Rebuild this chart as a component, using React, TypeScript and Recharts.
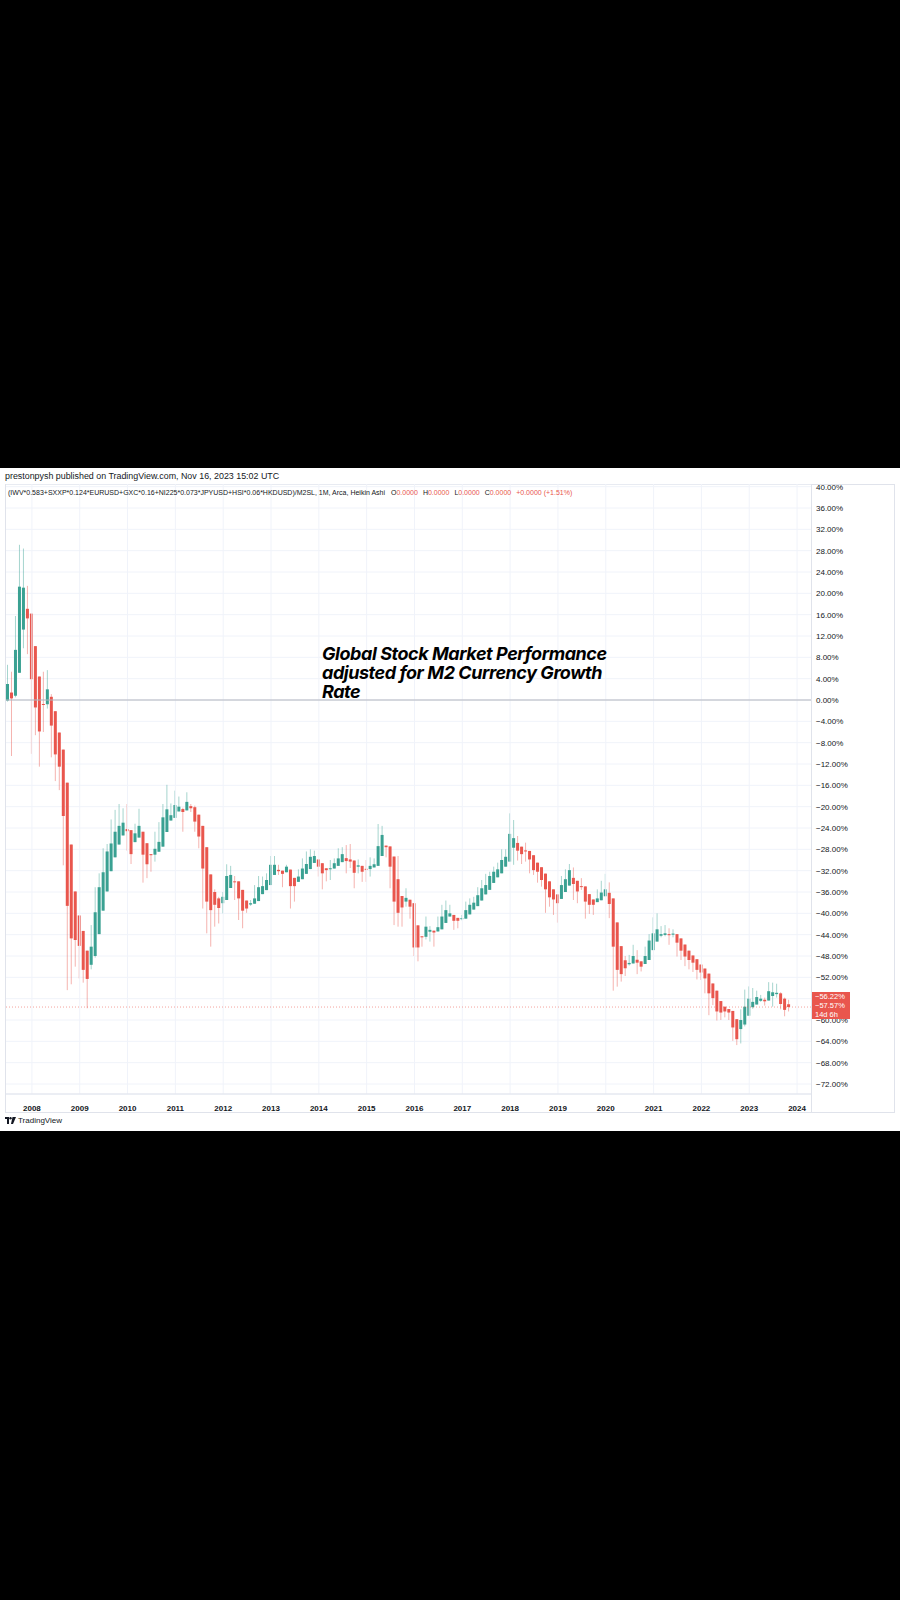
import React from "react";
import { ComposedChart, Bar, XAxis, YAxis, CartesianGrid, ReferenceLine } from "recharts";

// monthly Heikin Ashi candles, Jul 2007 .. Nov 2023 (one row per year)
const openVals = [
  -0.1, 1.4, 0.8, 5.1, 13.2, 17.1,
  16.2, 10.1, 4.4, -0.75, -0.8, 0.6, -2.1, -6.1, -9.3, -15.5, -27.1, -35.9,
  -40.4, -43.3, -47, -49.65, -48, -43.9, -39.5, -35.9, -32.1, -29.5, -27.1, -25.4,
  -24.2, -24.4, -26.65, -25.8, -24.7, -26.85, -28.9, -29, -28.45, -27.5, -24.75, -22.6,
  -22.1, -20.9, -20.45, -20.7, -19.9, -20.1, -21.5, -23.6, -27.6, -32.7, -36, -37.2,
  -38.1, -37.5, -35.25, -34, -34, -35.6, -37.6, -38.35, -38.2, -37.7, -36.4, -35.65,
  -34.7, -32.8, -31.85, -32, -32.3, -31.8, -33.35, -34.1, -33.6, -32.6, -31.7, -30.55,
  -29.9, -30.6, -31.55, -31.7, -31.6, -31.1, -30.4, -29.65, -29.9, -30.1, -31.25, -31.1,
  -31.65, -31.7, -31.4, -31.1, -29.25, -27.3, -27.45, -29.35, -33.6, -36.75, -37.8, -37.45,
  -38.1, -42.25, -44.3, -44.4, -43.45, -43.25, -43.4, -43, -41.8, -40.6, -40.3, -40.85,
  -41.1, -41, -40.2, -39.3, -38.65, -37.6, -36.45, -35.6, -34.3, -33.25, -32.5, -31.25,
  -30.3, -27.7, -26.8, -27.5, -28.2, -28.3, -29.1, -30.5, -31.35, -32.55, -34, -35.5,
  -36.45, -37.3, -36, -34.8, -33.35, -33.9, -34.9, -34.95, -36.4, -37.4, -37.9, -37.55,
  -36.8, -36.15, -37.2, -41.7, -46.15, -48.8, -49.55, -49.4, -48.7, -49, -49.5, -48.75,
  -46.9, -45.3, -44.2, -44.05, -43.9, -44, -43.9, -44.7, -45.85, -47, -47.9, -48.6,
  -49.6, -50.35, -51.3, -53.15, -54.5, -56.45, -57.5, -57.95, -58.3, -59.85, -61.7, -60.85,
  -59.2, -57.6, -57.1, -56.4, -56.2, -56.35, -55.5, -55.15, -55.0, -56, -57.05,
];
const highVals = [
  6.6, 5.3, 15.75, 29.1, 28.4, 21.4,
  16.2, 10.1, 4.4, 5.3, 5.6, 1.1, -2.1, -6.1, -9.3, -15.5, -27.1, -35.9,
  -40.4, -43.3, -47, -42.2, -35.1, -32.5, -27.8, -27, -22.4, -20.6, -19.5, -20.3,
  -19.5, -24.4, -23.2, -20.4, -24.7, -26.85, -28.9, -24.7, -22.9, -19.5, -15.9, -19.4,
  -17, -18.1, -20.2, -17.3, -19.5, -19.8, -21.5, -23.6, -27.6, -32.7, -35.5, -36.9,
  -36, -30.8, -31.1, -33, -34, -35.6, -37.6, -37.5, -34.7, -33, -33.1, -32.5,
  -29.25, -29.25, -30.9, -32, -30.9, -31.8, -33.35, -31.75, -29.7, -28.4, -28, -28.25,
  -29.9, -30.6, -31.55, -30, -29.7, -27.8, -27.6, -27.2, -27, -30.1, -29.9, -31.1,
  -30, -29.5, -29.7, -23.25, -23.6, -27.3, -27.45, -29.35, -29.25, -36.75, -35.3, -37.45,
  -38.1, -42.25, -44.3, -40.6, -42.4, -43.25, -40.6, -38.4, -37.6, -38.4, -40.3, -40.85,
  -40.3, -37.8, -37.2, -36.9, -35.1, -33.75, -32.6, -32.2, -31.25, -30.5, -28, -28,
  -21.25, -22.5, -25.5, -27.5, -26.75, -28.3, -29.1, -30.5, -31.35, -32.55, -34, -35.5,
  -36.45, -33, -31.75, -30.75, -31.4, -33.9, -33.4, -34.95, -36.4, -37.4, -35.5, -33.9,
  -32.6, -34.2, -37.2, -41.7, -46.15, -48, -47.8, -45.9, -46.9, -49, -46.25, -43.9,
  -40.75, -40, -42.4, -42.2, -42.8, -43, -43.9, -44.7, -45.85, -47, -47.9, -48.6,
  -49.6, -50.35, -51.3, -53.15, -54.5, -56.45, -57.5, -57.95, -58.3, -59.85, -58, -54.3,
  -53.7, -54, -54.5, -55.3, -55.8, -52.9, -53, -53.2, -54.8, -55.8, -56.2,
];
const lowVals = [
  -0.3, -10.5, 0.5, 5.1, 9.7, 8.6,
  -10.1, -6.6, -12.5, -6, -1.6, -10.75, -15.2, -16.9, -31, -54.4, -53.3, -50,
  -52.2, -53.0, -57.8, -50.5, -48.3, -43.9, -39.5, -35.9, -32.1, -29.5, -27.1, -25.4,
  -28.25, -30.75, -26.65, -25.8, -34.25, -33.4, -32.2, -30.3, -28.45, -27.5, -24.75, -22.6,
  -22.1, -20.9, -24.7, -20.7, -21, -24.7, -27.8, -39.1, -43.75, -46.25, -42.5, -41.9,
  -40, -37.5, -35.25, -37.5, -41.25, -42.8, -39.9, -38.6, -38.2, -37.7, -36.4, -35.65,
  -34.7, -32.8, -32.8, -35.1, -32.3, -39.1, -37.8, -34.1, -33.6, -32.6, -31.7, -30.55,
  -33.1, -35.5, -34, -33.75, -31.6, -31.1, -30.4, -32.5, -31.5, -35.3, -32.5, -34.1,
  -34.1, -33.1, -31.4, -31.1, -29.25, -29.5, -35.3, -42.2, -42.5, -42.5, -38.75, -41,
  -48, -49, -46.25, -44.9, -45.3, -46.25, -43.4, -43, -41.8, -40.6, -43.1, -42.8,
  -41.3, -41, -40.2, -39.3, -38.65, -37.6, -36.45, -35.6, -34.3, -33.25, -32.5, -31.25,
  -30.3, -30.9, -30.1, -30.75, -30.3, -32.5, -32.8, -34.25, -35, -39.9, -38.75, -40.3,
  -41.75, -37.3, -36, -34.8, -37.5, -38.1, -35.6, -41, -40.1, -40.3, -37.9, -37.55,
  -36.8, -40.9, -54.5, -53.75, -52.8, -51.75, -49.8, -49.4, -51.4, -50.9, -49.5, -48.75,
  -46.9, -45.3, -44.5, -44.3, -45.9, -44.5, -48.1, -48.75, -49.9, -50.5, -51, -52.4,
  -52.5, -55, -59.1, -57.2, -60.1, -60, -59.5, -60, -63.9, -64.7, -64.4, -61.2,
  -59.2, -57.9, -57.1, -56.6, -57.3, -56.35, -57.5, -55.8, -58, -59.3, -58.4,
];
const closeVals = [
  3.0, 0.3, 9.4, 21.25, 21.06, 15.3,
  3.9, -1.4, -5.9, -0.9, 2.0, -4.8, -10.2, -12.5, -21.75, -38.6, -44.7, -45,
  -46.1, -50.6, -52.3, -46.25, -39.8, -35.1, -32.3, -28.4, -26.9, -24.7, -23.6, -23.0,
  -24.6, -28.9, -25, -23.6, -29, -30.8, -29.1, -27.9, -26.6, -22, -20.5, -21.6,
  -19.7, -20, -21, -19.1, -20.3, -22.8, -25.6, -31.6, -37.8, -39.4, -38.4, -39,
  -36.9, -33, -32.8, -34.1, -37.2, -39.5, -39.1, -38.1, -37.2, -35.1, -34.9, -33.75,
  -30.9, -30.9, -32.1, -32.6, -31.25, -34.9, -34.9, -33.1, -31.6, -30.75, -29.4, -29.25,
  -31.25, -32.5, -31.9, -31.55, -30.6, -29.7, -28.9, -30.2, -30.3, -32.4, -31.0, -32.2,
  -31.8, -31.1, -30.8, -27.4, -25.3, -27.6, -31.25, -37.8, -39.9, -38.9, -37.1, -38.75,
  -46.4, -46.4, -44.5, -42.5, -43.1, -43.6, -42.6, -40.6, -39.4, -40.0, -41.4, -41.4,
  -40.9, -39.4, -38.4, -38, -36.6, -35.3, -34.7, -33, -32.2, -31.75, -30, -29.4,
  -25.1, -25.9, -28.25, -28.9, -28.4, -29.9, -31.9, -32.2, -33.75, -35.5, -37, -37.4,
  -38.1, -34.7, -33.6, -31.9, -34.5, -35.9, -35.0, -37.8, -38.4, -38.4, -37.2, -36.1,
  -35.5, -38.25, -46.25, -50.6, -51.4, -50.3, -49.3, -48, -49.25, -50, -48, -45.1,
  -43.75, -43, -43.9, -43.75, -44.1, -43.8, -45.5, -47, -48.1, -48.75, -49.25, -50.6,
  -51.1, -52.2, -55, -55.9, -58.4, -58.6, -58.4, -58.6, -61.4, -63.6, -60, -57.5,
  -56, -56.6, -55.7, -56.0, -56.5, -54.6, -54.8, -54.9, -57, -58.1, -57.57,
];

const yearLabels = ["2008", "2009", "2010", "2011", "2012", "2013", "2014", "2015", "2016",
  "2017", "2018", "2019", "2020", "2021", "2022", "2023", "2024"];
const priceTicks = [40, 36, 32, 28, 24, 20, 16, 12, 8, 4, 0, -4, -8, -12, -16, -20, -24, -28,
  -32, -36, -40, -44, -48, -52, -56, -60, -64, -68, -72];
const lastClose = -57.57;
const priceTag = ["\u221256.22%", "\u221257.57%", "14d 6h"];

const UP = "#3aa192";
const DOWN = "#e9564d";
const GRID = "#f0f3fa";
const BORDER = "#e0e3eb";
const TEXT = "#131722";
const FONT = "'Liberation Sans', Arial, sans-serif";

// month slots: data months plus a few empty ones to the right edge
const SLOTS = 202;
const months = Array.from({ length: SLOTS }, (_, i) => {
  const t = 6 + i; // starts July 2007
  return `${2007 + Math.floor(t / 12)}-${String((t % 12) + 1).padStart(2, "0")}`;
});

const data = months.map((m, i) =>
  i < openVals.length
    ? { m, o: openVals[i], h: highVals[i], l: lowVals[i], c: closeVals[i], range: [lowVals[i], highVals[i]] }
    : { m, range: null }
);

const yearKeys = yearLabels.map((y) => `${y}-01`);

const fmtPct = (v: number) => `${v < 0 ? "\u2212" : ""}${Math.abs(v).toFixed(2)}%`;

const Candle = (props: any) => {
  const { x, y, width, height, payload } = props;
  if (!payload || payload.o == null) return null;
  const { o, h, l, c } = payload;
  const k = height / (h - l);
  const yO = y + (h - o) * k;
  const yC = y + (h - c) * k;
  const color = c >= o ? UP : DOWN;
  const cx = x + width / 2;
  const top = Math.min(yO, yC);
  const bh = Math.max(Math.abs(yO - yC), 1);
  return (
    <g>
      <line x1={cx} x2={cx} y1={y} y2={y + height} stroke={color} strokeOpacity={0.45} strokeWidth={1} />
      <rect x={x} y={top} width={width} height={bh} fill={color} />
    </g>
  );
};

const YearTick = (props: any) => {
  const { x, y, payload } = props;
  const v: string = payload.value;
  if (!v.endsWith("-01")) return <g />;
  return (
    <text x={x} y={y + 9} textAnchor="middle" fontSize={8} fontWeight={700} fill={TEXT} fontFamily={FONT}>
      {v.slice(0, 4)}
    </text>
  );
};

export default function App() {
  return (
    <div style={{ position: "absolute", left: 0, top: 0, width: 900, height: 1600, background: "#000", overflow: "hidden" }}>
      <div style={{ position: "absolute", left: 0, top: 468, width: 900, height: 663, background: "#fff", fontFamily: FONT }}>
        <div style={{ position: "absolute", left: 5, top: 3, fontSize: 8.9, color: TEXT, whiteSpace: "nowrap" }}>
          prestonpysh published on TradingView.com, Nov 16, 2023 15:02 UTC
        </div>

        {/* frame lines */}
        <div style={{ position: "absolute", left: 5, top: 16, width: 890, height: 0, borderTop: `1px solid ${BORDER}` }} />
        <div style={{ position: "absolute", left: 5, top: 16, width: 0, height: 628, borderLeft: `1px solid ${BORDER}` }} />
        <div style={{ position: "absolute", left: 811, top: 16, width: 0, height: 628, borderLeft: `1px solid ${BORDER}` }} />
        <div style={{ position: "absolute", left: 894, top: 16, width: 0, height: 628, borderLeft: `1px solid ${BORDER}` }} />
        <div style={{ position: "absolute", left: 5, top: 644, width: 890, height: 0, borderTop: `1px solid ${BORDER}` }} />

        <div style={{ position: "absolute", left: 5, top: 16 }}>
          <ComposedChart width={890} height={628} data={data} margin={{ top: 0, right: 0, left: 1, bottom: 0 }}>
            <CartesianGrid stroke={GRID} vertical={false} />
            {yearKeys.map((k) => (
              <ReferenceLine key={k} x={k} stroke={GRID} ifOverflow="extendDomain" />
            ))}
            <XAxis
              dataKey="m"
              type="category"
              interval={0}
              height={18}
              tickLine={false}
              axisLine={{ stroke: BORDER }}
              tick={<YearTick />}
            />
            <YAxis
              orientation="right"
              width={84}
              domain={[-73.875, 40.5]}
              allowDataOverflow
              ticks={priceTicks}
              interval={0}
              tickFormatter={fmtPct}
              tickLine={false}
              axisLine={false}
              tickSize={0}
              tickMargin={5}
              tick={{ fontSize: 8, fill: TEXT, fontFamily: FONT }}
            />
            <ReferenceLine y={0} stroke="#b2b5be" strokeWidth={1} />
            <ReferenceLine y={lastClose} stroke={DOWN} strokeOpacity={0.55} strokeDasharray="1 2" />
            <Bar dataKey="range" barSize={3} shape={<Candle />} isAnimationActive={false} />
          </ComposedChart>
        </div>

        <div style={{ position: "absolute", left: 8, top: 21, fontSize: 7, color: TEXT, whiteSpace: "nowrap" }}>
          (IWV*0.583+SXXP*0.124*EURUSD+GXC*0.16+NI225*0.073*JPYUSD+HSI*0.06*HKDUSD)/M2SL, 1M, Arca, Heikin Ashi
          <span style={{ marginLeft: 6 }}>O<span style={{ color: DOWN }}>0.0000</span></span>
          <span style={{ marginLeft: 5 }}>H<span style={{ color: DOWN }}>0.0000</span></span>
          <span style={{ marginLeft: 5 }}>L<span style={{ color: DOWN }}>0.0000</span></span>
          <span style={{ marginLeft: 5 }}>C<span style={{ color: DOWN }}>0.0000</span></span>
          <span style={{ marginLeft: 5, color: DOWN }}>+0.0000 (+1.51%)</span>
        </div>

        <div
          style={{
            position: "absolute",
            left: 322,
            top: 176,
            fontFamily: "Inter, sans-serif",
            fontWeight: 700,
            fontStyle: "italic",
            fontSize: 18,
            lineHeight: "19px",
            letterSpacing: -0.45,
            color: "#000",
          }}
        >
          Global Stock Market Performance
          <br />
          adjusted for M2 Currency Growth
          <br />
          Rate
        </div>

        <div
          style={{
            position: "absolute",
            left: 812,
            top: 524,
            width: 38,
            height: 27,
            background: DOWN,
            color: "#fff",
            fontSize: 7.5,
            lineHeight: "9px",
            paddingLeft: 3,
            boxSizing: "border-box",
            whiteSpace: "nowrap",
          }}
        >
          {priceTag.map((t) => (
            <div key={t}>{t}</div>
          ))}
        </div>

        <div style={{ position: "absolute", left: 5, top: 648, fontSize: 8, color: TEXT, display: "flex", alignItems: "center", gap: 2 }}>
          <svg width={11} height={7} viewBox="0 0 11 7">
            <rect x={0} y={0} width={4} height={2} fill={TEXT} />
            <rect x={2} y={0} width={2} height={7} fill={TEXT} />
            <circle cx={5.5} cy={1.2} r={1.2} fill={TEXT} />
            <polygon points="7.5,0 11,0 8,7 6,7" fill={TEXT} />
          </svg>
          <span>TradingView</span>
        </div>
      </div>
    </div>
  );
}
